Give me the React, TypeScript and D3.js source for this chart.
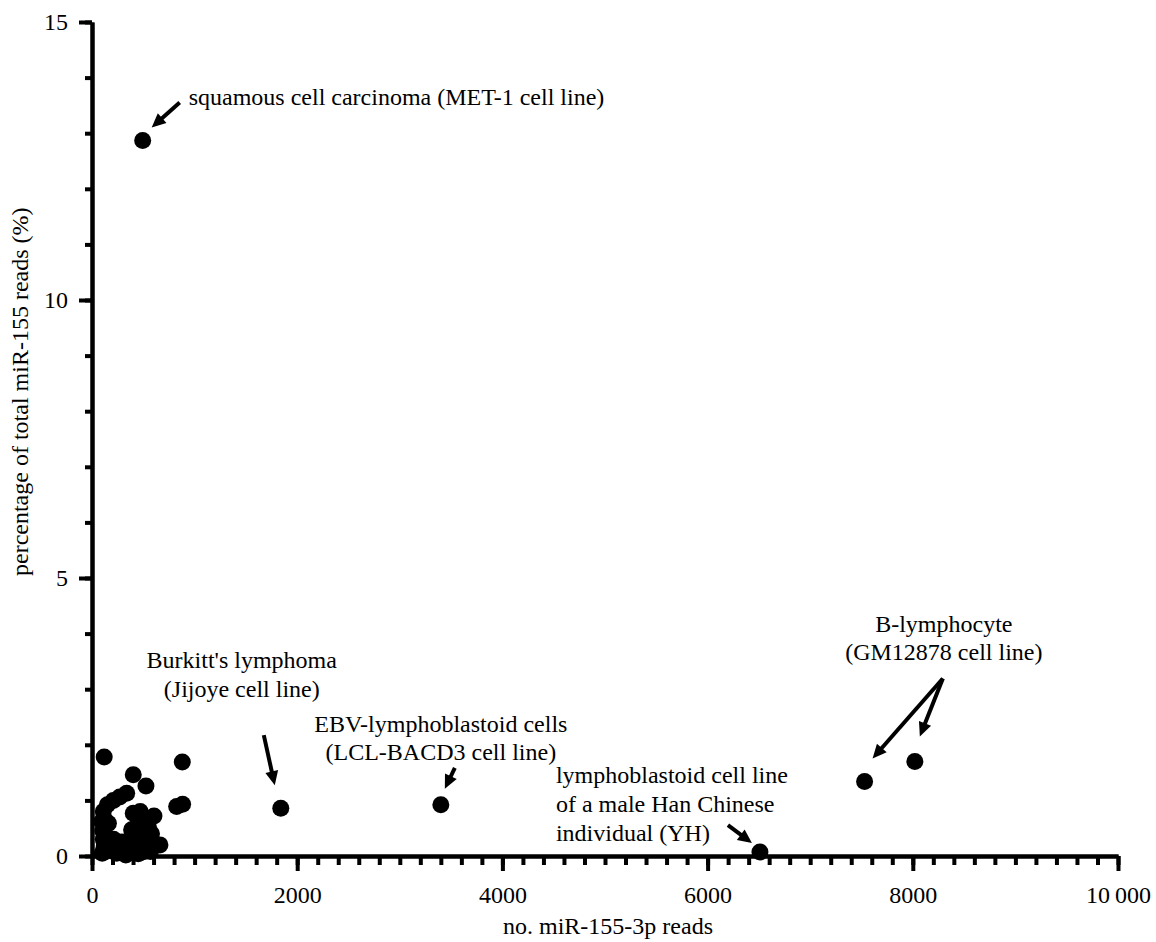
import React, { useEffect, useRef } from 'react';
import * as d3 from 'd3';

// small-count libraries clustered near the origin
const clusterReads = [
  119, 880, 402, 526, 338, 270, 208, 150, 110, 402, 604, 825, 883, 386, 549, 662, 160, 143,
  100, 120, 105, 180, 210, 240, 270, 300, 330, 360, 390, 420, 450, 480, 510, 540, 570, 460, 95,
  130, 160, 200, 230, 260, 290, 320, 350, 380, 410, 440, 470, 500, 530, 560, 110, 125, 115,
  440, 500, 480, 580, 470,
];
const clusterPct = [
  1.78, 1.69, 1.46, 1.26, 1.13, 1.06, 1.0, 0.92, 0.8, 0.77, 0.72, 0.89, 0.93, 0.47, 0.53, 0.2, 0.59, 0.35,
  0.05, 0.18, 0.45, 0.1, 0.3, 0.05, 0.22, 0.12, 0.02, 0.28, 0.1, 0.38, 0.04, 0.2, 0.08, 0.3, 0.08, 0.45, 0.62,
  0.08, 0.25, 0.15, 0.2, 0.1, 0.25, 0.18, 0.08, 0.33, 0.2, 0.25, 0.06, 0.3, 0.15, 0.22, 0.3, 0.65, 0.12,
  0.55, 0.62, 0.4, 0.4, 0.8,
];

// labelled samples
const labelNames = ['squamous', 'burkitt', 'ebv', 'yh', 'blymph1', 'blymph2'];
const labelReads = [494, 1840, 3400, 6510, 7530, 8020];
const labelPct = [12.87, 0.86, 0.92, 0.07, 1.34, 1.7];

const xMajorTicks = [0, 2000, 4000, 6000, 8000, 10000];
const yMajorTicks = [0, 5, 10, 15];

const xTitle = 'no. miR-155-3p reads';
const yTitle = 'percentage of total miR-155 reads (%)';

const FONT = '"Liberation Serif", "Times New Roman", serif';

// annotation layout, offsets in px relative to the dot it refers to
const annotations = [
  { ref: 'squamous', anchor: 'start', dx: 46, lines: ['squamous cell carcinoma (MET-1 cell line)'], dy: [-35],
    arrows: [{ from: 'squamous', x1: 37, y1: -38, to: 'squamous', x2: 9, y2: -13 }] },
  { ref: 'burkitt', anchor: 'middle', dx: -39, lines: ["Burkitt's lymphoma", '(Jijoye cell line)'], dy: [-140, -111],
    arrows: [{ from: 'burkitt', x1: -17, y1: -73, to: 'burkitt', x2: -6, y2: -23 }] },
  { ref: 'ebv', anchor: 'middle', dx: 0, lines: ['EBV-lymphoblastoid cells', '(LCL-BACD3 cell line)'], dy: [-73, -45],
    arrows: [{ from: 'ebv', x1: 14, y1: -37, to: 'ebv', x2: 4, y2: -16 }] },
  { ref: 'yh', anchor: 'start', dx: -204, lines: ['lymphoblastoid cell line', 'of a male Han Chinese', 'individual (YH)'], dy: [-69, -40, -11],
    arrows: [{ from: 'yh', x1: -32, y1: -27, to: 'yh', x2: -8, y2: -9 }] },
  { ref: 'blymph2', anchor: 'middle', dx: 29, lines: ['B-lymphocyte', '(GM12878 cell line)'], dy: [-129, -101],
    arrows: [
      { from: 'blymph2', x1: 28, y1: -83, to: 'blymph1', x2: 8, y2: -23 },
      { from: 'blymph2', x1: 28, y1: -83, to: 'blymph2', x2: 5, y2: -25 },
    ] },
];

export default function App() {
  const svgRef = useRef<SVGSVGElement>(null);

  useEffect(() => {
    const width = 1156;
    const height = 942;
    const svg = d3.select(svgRef.current).attr('width', width).attr('height', height);
    svg.selectAll('*').remove();

    const x = d3.scaleLinear().domain([0, 10000]).range([92, 1118]);
    const y = d3.scaleLinear().domain([0, 15]).range([856, 22]);

    const axisStyle = (g: any) => {
      g.selectAll('path.domain').attr('stroke', '#000').attr('stroke-width', 4);
      g.selectAll('.tick line').attr('stroke', '#000').attr('stroke-width', 4);
      g.selectAll('text').attr('fill', '#000').style('font-family', FONT).style('font-size', '24px');
    };

    // minor ticks
    svg.append('g')
      .attr('transform', `translate(0,${y(0)})`)
      .call(d3.axisBottom(x).tickValues(d3.range(0, 10001, 200)).tickSize(9).tickSizeOuter(0).tickFormat(() => ''))
      .call(axisStyle);
    svg.append('g')
      .attr('transform', `translate(${x(0)},0)`)
      .call(d3.axisLeft(y).tickValues(d3.range(0, 16, 1)).tickSize(7).tickSizeOuter(0).tickFormat(() => ''))
      .call(axisStyle);

    // major ticks + labels
    svg.append('g')
      .attr('transform', `translate(0,${y(0)})`)
      .call(d3.axisBottom(x).tickValues(xMajorTicks).tickSize(15).tickSizeOuter(0).tickPadding(15)
        .tickFormat((d: any) => (d === 10000 ? '10\u2009000' : String(d))))
      .call(axisStyle);
    svg.append('g')
      .attr('transform', `translate(${x(0)},0)`)
      .call(d3.axisLeft(y).tickValues(yMajorTicks).tickSize(13).tickSizeOuter(0).tickPadding(11))
      .call(axisStyle);

    // axis titles
    svg.append('text')
      .attr('x', 608).attr('y', 934)
      .attr('text-anchor', 'middle')
      .style('font-family', FONT).style('font-size', '24px')
      .text(xTitle);
    svg.append('text')
      .attr('transform', `translate(28,${y(8.35)}) rotate(-90)`)
      .attr('text-anchor', 'middle')
      .style('font-family', FONT).style('font-size', '24px')
      .text(yTitle);

    // dots
    const r = 8.5;
    svg.append('g').selectAll('circle')
      .data(clusterReads.map((v, i) => [v, clusterPct[i]]))
      .join('circle')
      .attr('cx', d => x(d[0])).attr('cy', d => y(d[1])).attr('r', r).attr('fill', '#000');
    svg.append('g').selectAll('circle')
      .data(labelReads.map((v, i) => [v, labelPct[i]]))
      .join('circle')
      .attr('cx', d => x(d[0])).attr('cy', d => y(d[1])).attr('r', r).attr('fill', '#000');

    const pos = (name: string) => {
      const i = labelNames.indexOf(name);
      return [x(labelReads[i]), y(labelPct[i])];
    };

    // annotations
    const ann = svg.append('g');
    annotations.forEach(a => {
      const [px, py] = pos(a.ref);
      a.lines.forEach((line, i) => {
        ann.append('text')
          .attr('x', px + a.dx).attr('y', py + a.dy[i])
          .attr('text-anchor', a.anchor)
          .style('font-family', FONT).style('font-size', '24px')
          .text(line);
      });
      a.arrows.forEach(ar => {
        const [fx, fy] = pos(ar.from);
        const [tx, ty] = pos(ar.to);
        const x1 = fx + ar.x1, y1 = fy + ar.y1, x2 = tx + ar.x2, y2 = ty + ar.y2;
        const len = Math.hypot(x2 - x1, y2 - y1);
        const ux = (x2 - x1) / len, uy = (y2 - y1) / len;
        const head = 14, half = 6.5;
        const bx = x2 - ux * head, by = y2 - uy * head;
        ann.append('line')
          .attr('x1', x1).attr('y1', y1)
          .attr('x2', x2 - ux * (head - 2)).attr('y2', y2 - uy * (head - 2))
          .attr('stroke', '#000').attr('stroke-width', 4);
        ann.append('path')
          .attr('d', `M${x2},${y2}L${bx - uy * half},${by + ux * half}L${bx + uy * half},${by - ux * half}Z`)
          .attr('fill', '#000');
      });
    });
  }, []);

  return (
    <div style={{ position: 'absolute', left: 0, top: 0 }}>
      <svg ref={svgRef}></svg>
    </div>
  );
}
